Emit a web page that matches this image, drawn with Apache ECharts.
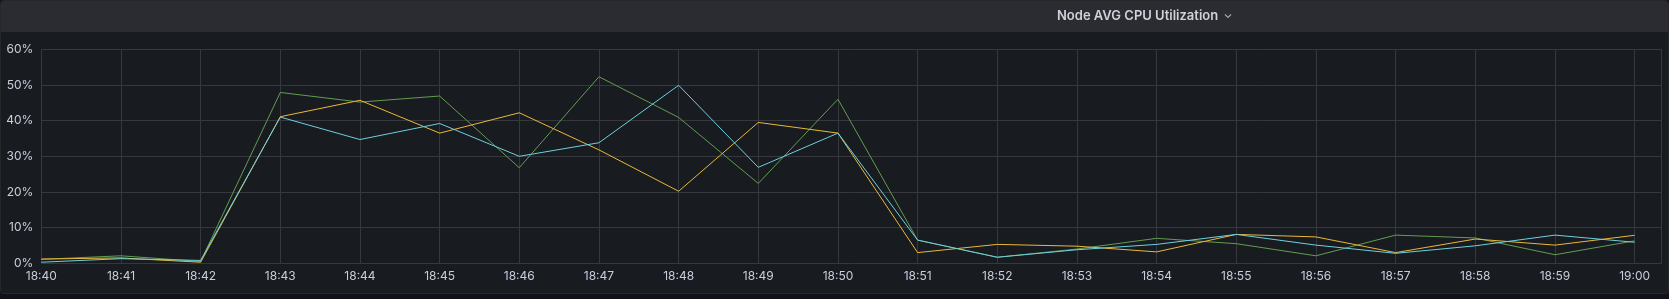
<!DOCTYPE html>
<html>
<head>
<meta charset="utf-8">
<script src="https://cdn.jsdelivr.net/npm/echarts@6/dist/echarts.min.js"></script>
<style>
  html, body { margin: 0; padding: 0; background: #111217; }
  #chart { width: 1669px; height: 299px; }
</style>
</head>
<body>
<div id="chart"></div>
<script>
// Time labels (one per minute)
const times = ['18:40','18:41','18:42','18:43','18:44','18:45','18:46','18:47','18:48','18:49','18:50',
               '18:51','18:52','18:53','18:54','18:55','18:56','18:57','18:58','18:59','19:00'];
// CPU utilisation (%) per node
const nodeGreen  = [1.1, 2.1, 0.5, 47.9, 45.2, 46.9, 26.8, 52.3, 40.9, 22.4, 46.0,
                    6.5, 1.7, 4.0, 7.0, 5.5, 2.1, 7.9, 7.1, 2.4, 6.3];
const nodeYellow = [1.2, 1.5, 0.3, 41.1, 45.7, 36.5, 42.2, 31.8, 20.2, 39.5, 36.5,
                    3.0, 5.3, 4.8, 3.2, 8.1, 7.4, 3.0, 6.8, 5.1, 7.85];
const nodeCyan   = [0.3, 1.3, 0.8, 41.0, 34.7, 39.2, 30.0, 33.8, 49.9, 26.9, 36.5,
                    6.5, 1.7, 3.8, 5.3, 8.1, 5.1, 2.8, 4.9, 7.9, 5.9];
const yTicks = [0, 10, 20, 30, 40, 50, 60];
const titleText = 'Node AVG CPU Utilization';

const toPairs = arr => arr.map((v, i) => [i, v]);

const chart = echarts.init(document.getElementById('chart'), null, { renderer: 'canvas' });
const textColor = '#ccccdc';
const gridColor = '#36383d';

chart.setOption({
  animation: false,
  backgroundColor: '#111217',
  graphic: {
    elements: [
      { type: 'rect', z: -10, shape: { x: 0.5, y: 0.5, width: 1668, height: 293, r: 3 },
        style: { fill: '#181b1f', stroke: '#25272b', lineWidth: 1 } },
      { type: 'rect', z: -9, shape: { x: 1, y: 1, width: 1667, height: 31, r: [3, 3, 0, 0] },
        style: { fill: '#2b2c31' } },
      { type: 'polyline', z: 100, silent: true,
        shape: { points: [[1225, 14.5], [1228, 17.5], [1231, 14.5]] },
        style: { stroke: '#a3a4ac', lineWidth: 1.2, fill: 'none' } }
    ]
  },
  title: {
    text: titleText,
    left: 1057, top: 10, padding: 0,
    textStyle: { color: '#d0d1da', fontFamily: 'Inter', fontSize: 13, fontWeight: 600 }
  },
  grid: { left: 41.3, right: 7.3, top: 49.3, bottom: 35.7, outerBoundsMode: 'none' },
  xAxis: {
    type: 'value',
    min: 0, max: 20.34, interval: 1,
    axisLine: { show: false },
    axisTick: { show: false },
    splitLine: { show: true, lineStyle: { color: gridColor, width: 1 } },
    axisLabel: {
      color: textColor, fontFamily: 'Inter', fontSize: 12, margin: 7,
      showMaxLabel: false,
      formatter: v => (Number.isInteger(v) && times[v]) ? times[v] : ''
    }
  },
  yAxis: {
    type: 'value',
    min: yTicks[0], max: yTicks[yTicks.length - 1], interval: 10,
    axisLine: { show: false },
    axisTick: { show: false },
    splitLine: { show: true, lineStyle: { color: gridColor, width: 1 } },
    axisLabel: { color: textColor, fontFamily: 'Inter', fontSize: 12, margin: 8, formatter: '{value}%' }
  },
  series: [
    { name: 'node-1', type: 'line', data: toPairs(nodeGreen), showSymbol: false,
      lineStyle: { width: 1, color: '#629e51' }, itemStyle: { color: '#629e51' } },
    { name: 'node-2', type: 'line', data: toPairs(nodeYellow), showSymbol: false,
      lineStyle: { width: 1, color: '#eab839' }, itemStyle: { color: '#eab839' } },
    { name: 'node-3', type: 'line', data: toPairs(nodeCyan), showSymbol: false,
      lineStyle: { width: 1, color: '#6ed0e0' }, itemStyle: { color: '#6ed0e0' } }
  ]
});
</script>
</body>
</html>
